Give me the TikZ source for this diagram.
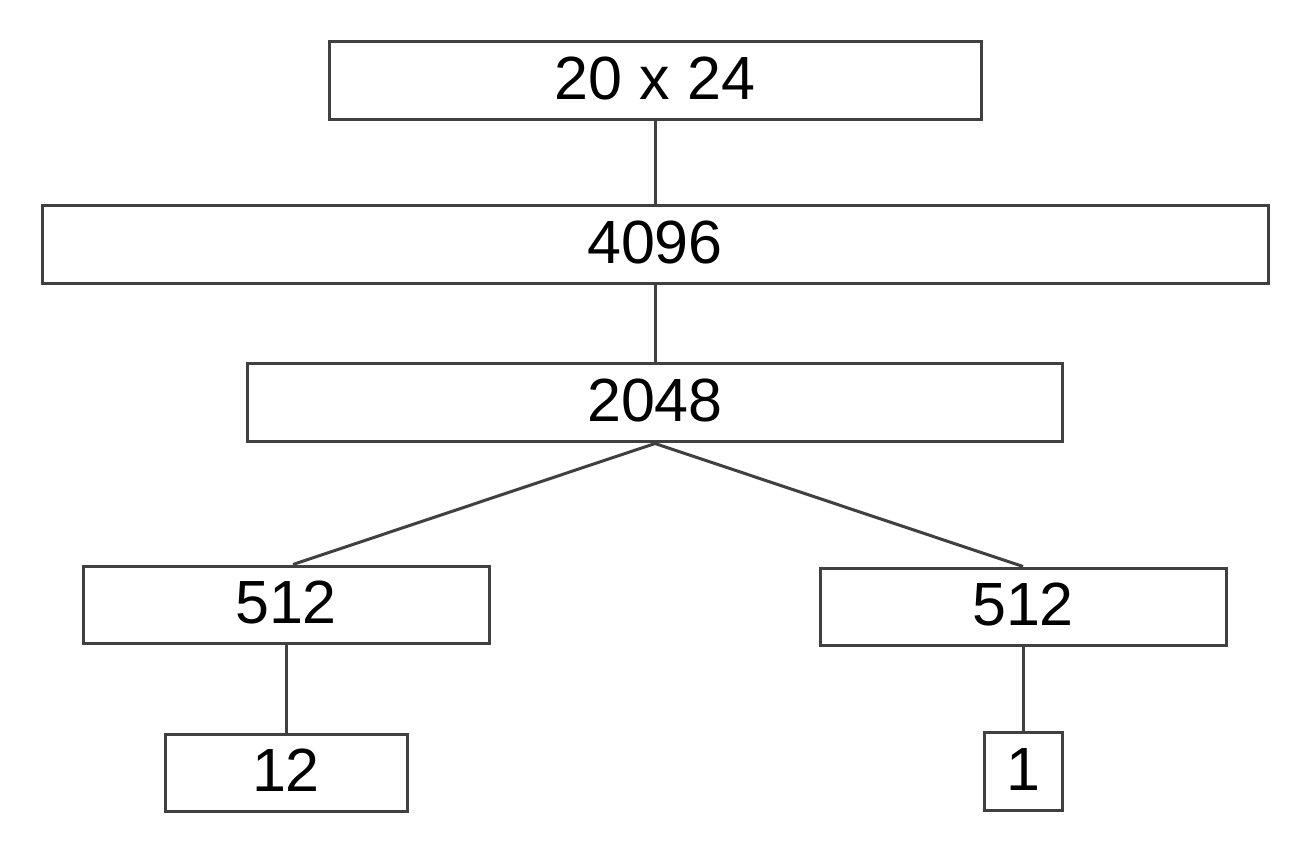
\documentclass[tikz,border=0pt]{standalone}
\usepackage{fontspec}
\setmainfont{Liberation Sans}
\begin{document}
\begin{tikzpicture}[x=1pt,y=-1pt,
  box/.style={draw=boxgray, line width=3pt, rectangle, inner sep=0pt,
    font=\fontsize{61}{61}\selectfont, text height=43pt, text depth=6pt},
  link/.style={draw=boxgray, line width=3pt}]
\definecolor{boxgray}{HTML}{404040}
\useasboundingbox (0,0) rectangle (1302,858);
\fill[white] (0,0) rectangle (1302,858);
\node[box, minimum width=652pt, minimum height=78pt] (top) at (655,81) {20 x 24};
\node[box, minimum width=1226pt, minimum height=78pt] (b4096) at (655,245) {4096};
\node[box, minimum width=815pt, minimum height=78pt] (b2048) at (655,403) {2048};
\node[box, minimum width=406pt, minimum height=77pt] (l512) at (286,604.5) {512};
\node[box, minimum width=406pt, minimum height=77pt] (r512) at (1023,606.5) {512};
\node[box, minimum width=242pt, minimum height=77pt] (b12) at (286,772.5) {12};
\node[box, minimum width=78pt, minimum height=78pt] (b1) at (1023,771.5) {1};
\draw[link] (top.south) -- (b4096.north);
\draw[link] (b4096.south) -- (b2048.north);
\draw[link] (b2048.south) -- ([xshift=7pt]l512.north);
\draw[link] (b2048.south) -- (r512.north);
\draw[link] (l512.south) -- (b12.north);
\draw[link] (r512.south) -- (b1.north);
\end{tikzpicture}
\end{document}
